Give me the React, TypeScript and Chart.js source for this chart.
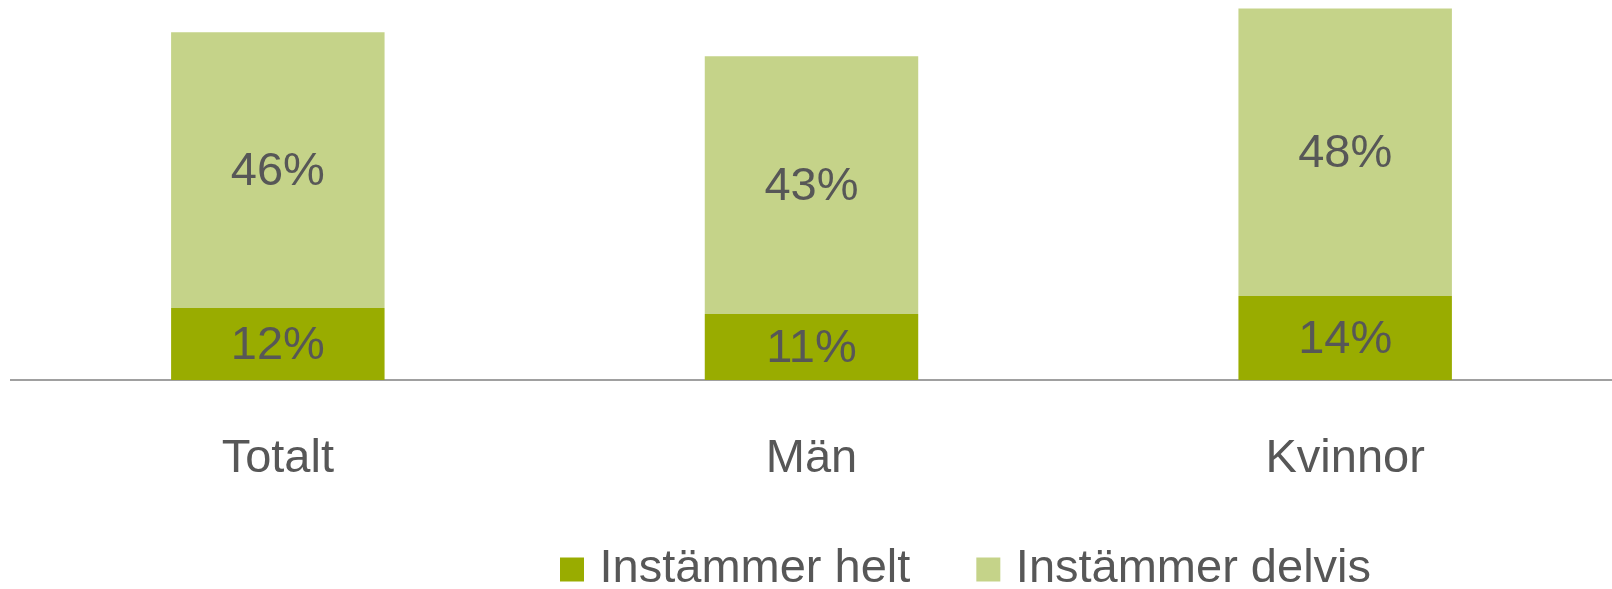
import React, { useEffect, useRef } from "react";
import { Chart, registerables } from "chart.js";

Chart.register(...registerables);

const categories = ["Totalt", "Män", "Kvinnor"];
const heltValues = [12, 11, 14];
const delvisValues = [46, 43, 48];
const seriesNames = ["Instämmer helt", "Instämmer delvis"];
const seriesColors = ["#99AC00", "#C5D389"];

const TEXT_COLOR = "#575757";
const FONT_FAMILY = "'Liberation Sans', Arial, sans-serif";

const valueLabels = {
  id: "valueLabels",
  afterDatasetsDraw(chart: any) {
    const ctx = chart.ctx;
    ctx.save();
    ctx.font = `47px ${FONT_FAMILY}`;
    ctx.fillStyle = TEXT_COLOR;
    ctx.textAlign = "center";
    ctx.textBaseline = "middle";
    chart.data.datasets.forEach((ds: any, di: number) => {
      const meta = chart.getDatasetMeta(di);
      meta.data.forEach((el: any, i: number) => {
        const v = ds.data[i];
        const { x, y, base } = el.getProps(["x", "y", "base"], true);
        ctx.fillText(`${v}%`, x, (y + base) / 2 + 2);
      });
    });
    ctx.restore();
  },
};

// place the legend where it sits in the reference and let x tick labels overflow the scale box
const legendPlace = {
  id: "legendPlace",
  afterUpdate(chart: any) {
    const lg = chart.legend;
    if (lg) {
      const pad = lg.options.labels.padding;
      const w = lg.right - lg.left;
      const h = lg.bottom - lg.top;
      lg.left = 568 - pad;
      lg.right = lg.left + w;
      lg.top = 569.5 - 23.5 - pad;
      lg.bottom = lg.top + h;
    }
    const xs = chart.scales.x;
    if (xs) xs.bottom = chart.height;
  },
};

export default function App() {
  const ref = useRef<HTMLCanvasElement | null>(null);

  useEffect(() => {
    if (!ref.current) return;
    const defaultGen = (Chart.defaults as any).plugins.legend.labels.generateLabels;
    const chart = new Chart(ref.current, {
      type: "bar",
      data: {
        labels: categories,
        datasets: [
          {
            label: seriesNames[0],
            data: heltValues,
            backgroundColor: seriesColors[0],
            borderWidth: 0,
          },
          {
            label: seriesNames[1],
            data: delvisValues,
            backgroundColor: seriesColors[1],
            borderWidth: 0,
          },
        ],
      },
      options: {
        animation: false,
        responsive: true,
        maintainAspectRatio: false,
        datasets: {
          bar: { categoryPercentage: 0.4, barPercentage: 1 },
        },
        layout: { padding: { left: 11, right: -4, top: 0, bottom: 0 } },
        scales: {
          x: {
            stacked: true,
            grid: { display: false },
            border: { display: true, color: "#A0A0A0", width: 2 },
            ticks: {
              color: TEXT_COLOR,
              font: { family: FONT_FAMILY, size: 47 },
              padding: 43,
            },
            afterFit: (s: any) => {
              const lh = s.chart.legend ? s.chart.legend.height : 0;
              s.height = 209 - lh;
            },
          },
          y: {
            stacked: true,
            display: false,
            min: 0,
            max: 63.4,
          },
        },
        plugins: {
          tooltip: { enabled: false },
          legend: {
            position: "bottom",
            align: "start",
            onClick: () => {},
            labels: {
              boxWidth: 8,
              boxHeight: 8,
              padding: 74,
              color: TEXT_COLOR,
              font: { family: FONT_FAMILY, size: 47, lineHeight: 1 },
              generateLabels: (c: any) =>
                defaultGen(c).map((it: any) => ({
                  ...it,
                  lineWidth: 16,
                  strokeStyle: it.fillStyle,
                })),
            },
          },
        },
      },
      plugins: [valueLabels, legendPlace],
    });
    return () => chart.destroy();
  }, []);

  return (
    <div style={{ position: "absolute", left: 0, top: 0, width: 1612, height: 589, background: "#fff" }}>
      <canvas ref={ref} />
    </div>
  );
}
